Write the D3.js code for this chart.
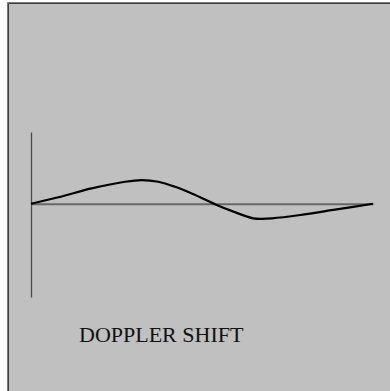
<!DOCTYPE html>
<html>
<head>
<meta charset="utf-8">
<script src="https://cdn.jsdelivr.net/npm/d3@7"></script>
<style>
    html, body { margin: 0; padding: 0; background: #ffffff; }
    #chart { width: 390px; height: 391px; }
</style>
</head>
<body>
<div id="chart"></div>
<script>
(function () {
    "use strict";

    // orbital phase (0..1) and doppler shift
    const phase = [0, 0.08, 0.177, 0.275, 0.324, 0.372, 0.421, 0.47, 0.509, 0.543, 0.592, 0.65, 0.675, 0.704, 0.787, 0.884, 1];
    const shift = [0, 0.27, 0.64, 0.92, 0.99, 0.92, 0.71, 0.43, 0.18, -0.05, -0.33, -0.61, -0.63, -0.61, -0.47, -0.26, 0];
    const shiftDomain = [-3.9, 3];
    const title = "DOPPLER SHIFT";

    const d3 = window.d3;
    const width = 390;
    const height = 391;

    const svg = d3.select("#chart")
        .append("svg")
        .attr("width", width)
        .attr("height", height)
        .attr("viewBox", [0, 0, width, height]);

    // panel with a sunken edge on top/left
    svg.append("rect")
        .attr("x", 7)
        .attr("y", 2)
        .attr("width", width - 7)
        .attr("height", height - 2)
        .attr("fill", "#c0c0c0");
    svg.append("path")
        .attr("d", `M7.5,${height}V2.5H${width}`)
        .attr("fill", "none")
        .attr("stroke", "#7a7a7a");
    svg.append("path")
        .attr("d", `M8.5,${height}V3.5H${width}`)
        .attr("fill", "none")
        .attr("stroke", "#3c3c3c");

    const x = d3.scaleLinear().domain([0, 1]).range([31, 373]);
    const y = d3.scaleLinear().domain(shiftDomain).range([297, 132]);

    svg.append("g")
        .attr("transform", `translate(${x(0)},0)`)
        .call(d3.axisLeft(y).tickValues([]).tickSizeOuter(0))
        .call((g) => g.select(".domain").attr("stroke", "#4a4a4a").attr("stroke-width", 1.3));

    svg.append("g")
        .attr("transform", `translate(0,${y(0)})`)
        .call(d3.axisBottom(x).tickValues([]).tickSizeOuter(0))
        .call((g) => g.select(".domain").attr("stroke", "#676767").attr("stroke-width", 1.8));

    const points = phase.map((p, i) => ({ p, s: shift[i] }));

    const line = d3.line()
        .x((d) => x(d.p))
        .y((d) => y(d.s))
        .curve(d3.curveCatmullRom.alpha(0.5));

    svg.append("path")
        .datum(points)
        .attr("d", line)
        .attr("fill", "none")
        .attr("stroke", "#000000")
        .attr("stroke-width", 2.2);

    svg.append("text")
        .attr("x", 79)
        .attr("y", 342)
        .attr("fill", "#111111")
        .style("font", "22px 'Liberation Serif', 'DejaVu Serif', serif")
        .text(title);
})();
</script>
</body>
</html>
